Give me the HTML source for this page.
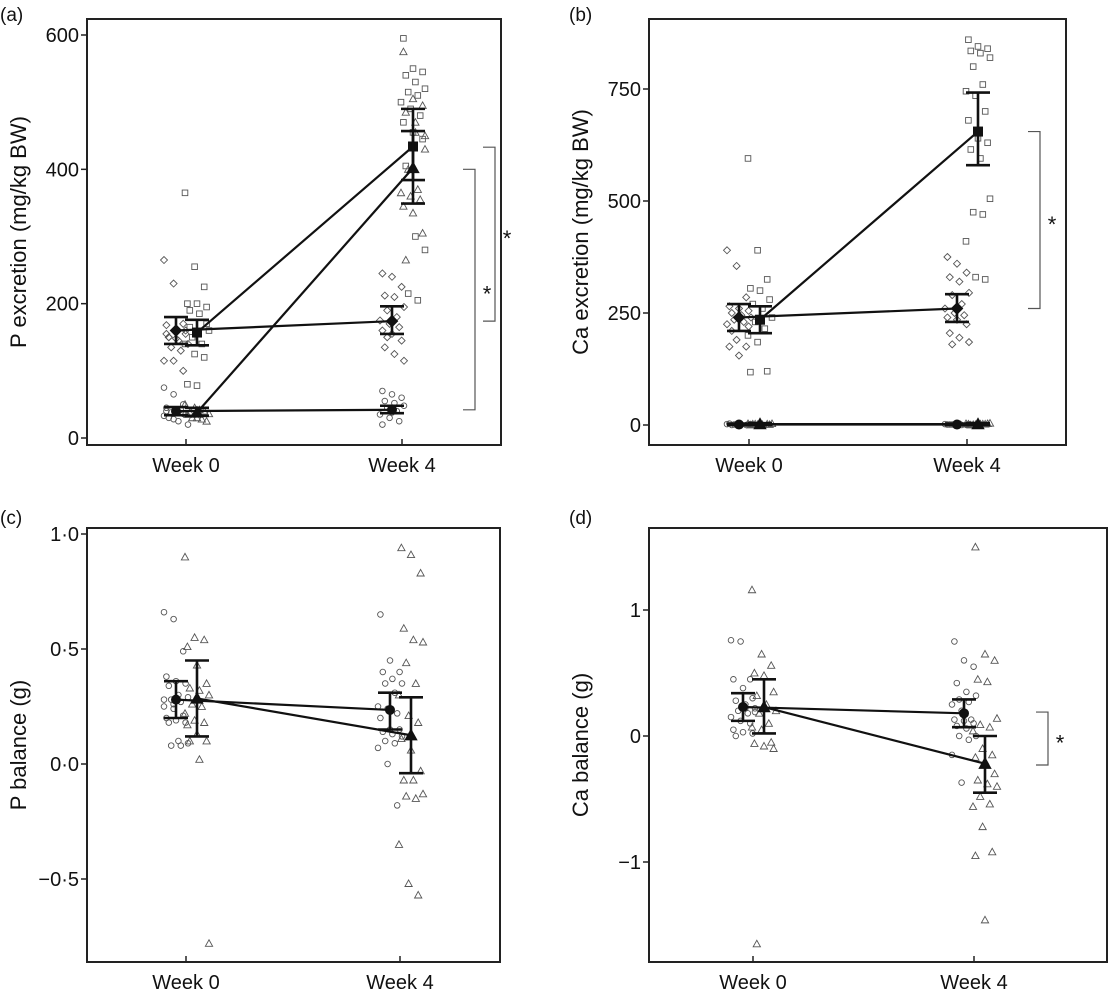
<!DOCTYPE html>
<html><head><meta charset="utf-8">
<style>
html,body{margin:0;padding:0;background:#fff;}
svg{display:block;font-family:"Liberation Sans",Arial,sans-serif;}
</style></head>
<body>
<svg id="fig" width="1111" height="993" viewBox="0 0 1111 993" xmlns="http://www.w3.org/2000/svg"></svg>
<script>
// ---------- DATA ----------
const categories = ["Week 0","Week 4"];
// Panel (a) P excretion
const aDiamW0=[265,230,170,168,160,155,150,145,140,135,130,115,115,100,155,148,160,150];
const aCircW0=[75,65,50,45,40,35,30,25,20,38,42,33,28,36,40];
const aSqW0=[365,255,225,200,200,195,190,185,160,150,140,140,125,120,80,78,170,165];
const aTriW0=[50,45,40,35,30,25,38,42,36,30,28];
const aDiamW4=[245,240,225,212,210,195,190,180,175,170,165,160,155,145,135,125,115,150];
const aCircW4=[70,65,60,55,52,48,45,40,35,30,25,20,38];
const aSqW4=[595,550,545,540,530,520,515,510,500,490,480,470,455,445,405,300,280,215,205];
const aTriW4=[575,505,495,485,455,430,400,370,365,360,355,345,335,305,265,470,450];
const aMeans={diam:[160,174],circ:[40,42],sq:[157,434],tri:[38,402]};
const aLo={diam:[140,155],circ:[34,37],sq:[138,384],tri:[33,349]};
const aHi={diam:[180,196],circ:[46,48],sq:[176,490],tri:[45,457]};
const aTicks=[0,200,400,600];
// Panel (b) Ca excretion
const bDiamW0=[390,355,285,265,260,255,250,245,240,235,230,225,190,175,175,155,220,210];
const bSqW0=[595,390,325,305,300,280,270,260,240,230,215,200,185,120,118];
const bCircW0=[2,1,0,3,1,2,0,1,2,1];
const bTriW0=[3,1,2,0,4,1,2,1,3,2];
const bDiamW4=[375,360,340,330,320,295,290,270,260,250,245,240,235,225,205,195,185,180];
const bSqW4=[860,845,840,835,830,820,800,760,745,735,700,680,640,630,615,595,505,475,470,410,330,325];
const bCircW4=[1,2,0,1,3,2,1,0,2,1];
const bTriW4=[2,1,3,0,2,4,1,2,3,1,2];
const bMeans={diam:[240,260],circ:[1,1],sq:[235,655],tri:[2,2]};
const bLo={diam:[210,230],circ:[0,0],sq:[205,580],tri:[0,0]};
const bHi={diam:[270,292],circ:[3,3],sq:[265,742],tri:[4,4]};
const bTicks=[0,250,500,750];
// Panel (c) P balance
const cCircW0=[0.66,0.63,0.49,0.38,0.36,0.35,0.34,0.30,0.29,0.28,0.27,0.25,0.24,0.21,0.20,0.19,0.18,0.18,0.10,0.09,0.08,0.08,0.28,0.26];
const cTriW0=[0.90,0.55,0.54,0.51,0.43,0.35,0.33,0.32,0.30,0.26,0.25,0.22,0.19,0.18,0.17,0.13,0.10,0.10,0.02,-0.78];
const cCircW4=[0.65,0.45,0.40,0.40,0.37,0.35,0.35,0.31,0.25,0.24,0.22,0.20,0.15,0.15,0.14,0.13,0.12,0.10,0.09,0.07,0.00,-0.18];
const cTriW4=[0.94,0.91,0.83,0.59,0.54,0.53,0.44,0.35,0.30,0.21,0.18,0.11,0.06,-0.03,-0.07,-0.07,-0.13,-0.14,-0.15,-0.35,-0.52,-0.57];
const cMeans={circ:[0.28,0.235],tri:[0.285,0.125]};
const cLo={circ:[0.20,0.15],tri:[0.12,-0.04]};
const cHi={circ:[0.36,0.31],tri:[0.45,0.29]};
const cTicks=[-0.5,0,0.5,1.0];
const cTickLabels=["\u22120\u00b75","0\u00b70","0\u00b75","1\u00b70"];
// Panel (d) Ca balance
const dCircW0=[0.76,0.75,0.45,0.45,0.38,0.30,0.28,0.25,0.22,0.20,0.18,0.15,0.12,0.10,0.05,0.03,0.02,0.0,0.22,0.19];
const dTriW0=[1.16,0.65,0.56,0.50,0.48,0.35,0.32,0.25,0.20,0.18,0.10,0.07,0.05,-0.05,-0.06,-0.08,-0.10,-1.65];
const dCircW4=[0.75,0.60,0.55,0.42,0.35,0.32,0.29,0.27,0.25,0.20,0.13,0.13,0.12,0.10,0.08,0.06,0.0,0.0,-0.03,-0.15,-0.37];
const dTriW4=[1.5,0.65,0.60,0.45,0.43,0.14,0.09,0.07,0.04,-0.10,-0.15,-0.17,-0.20,-0.30,-0.35,-0.38,-0.40,-0.48,-0.54,-0.56,-0.72,-0.92,-0.95,-1.46];
const dMeans={circ:[0.23,0.18],tri:[0.23,-0.22]};
const dLo={circ:[0.12,0.07],tri:[0.02,-0.45]};
const dHi={circ:[0.34,0.29],tri:[0.45,0.00]};
const dTicks=[-1,0,1];
const dTickLabels=["\u22121","0","1"];

// ---------- DRAW ----------
const NS="http://www.w3.org/2000/svg";
const svg=document.getElementById('fig');
function mk(tag,attrs,parent){const e=document.createElementNS(NS,tag);for(const k in attrs)e.setAttribute(k,attrs[k]);(parent||svg).appendChild(e);return e;}
function lin(v0,p0,v1,p1){return v=>p0+(v-v0)*(p1-p0)/(v1-v0);}

function marker(g,shape,x,y,filled){
  const st=filled?{fill:'#111',stroke:'#111','stroke-width':1}:{fill:'none',stroke:'#555','stroke-width':0.9};
  const s=filled?4.5:2.8;
  let e;
  if(shape==='circ'){e=mk('circle',Object.assign({cx:x,cy:y,r:s},st),g);}
  else if(shape==='sq'){e=mk('rect',Object.assign({x:x-s,y:y-s,width:2*s,height:2*s},st),g);}
  else if(shape==='diam'){const d=s*1.25;e=mk('polygon',Object.assign({points:`${x},${y-d} ${x+d},${y} ${x},${y+d} ${x-d},${y}`},st),g);}
  else {const d=s*1.3;e=mk('polygon',Object.assign({points:`${x},${y-d} ${x+d},${y+d*0.8} ${x-d},${y+d*0.8}`},st),g);}
  
  
}
function jit(i){return ((i*37)%11-5)*2.4;}

function panel(cfg){
  const g=mk('g',{});
  
  
  const y=lin(cfg.v0,cfg.p0,cfg.v1,cfg.p1);
  const xs=[cfg.xw0,cfg.xw4];
  const fr=mk('rect',{x:cfg.L,y:cfg.T,width:cfg.R-cfg.L,height:cfg.B-cfg.T,fill:'none',stroke:'#222','stroke-width':2},g);
  
  const lbl=mk('text',{x:cfg.labelX,y:cfg.labelY,'font-size':19,fill:'#111'},g);lbl.textContent='('+cfg.id+')';
  
  cfg.ticks.forEach((t,i)=>{
    const ty=y(t);
    const tk=mk('line',{x1:cfg.L,x2:cfg.L-6,y1:ty,y2:ty,stroke:'#222','stroke-width':1.5},g);
    
    const tl=mk('text',{x:cfg.L-8,y:ty+7,'font-size':20,'text-anchor':'end',fill:'#111'},g);
    tl.textContent=cfg.tickLabels?cfg.tickLabels[i]:String(t);
    
  });
  categories.forEach((c,i)=>{
    const tk=mk('line',{x1:xs[i],x2:xs[i],y1:cfg.B,y2:cfg.B-6,stroke:'#222','stroke-width':1.5},g);
    
    const tl=mk('text',{x:xs[i],y:cfg.B+27,'font-size':20,'text-anchor':'middle',fill:'#111'},g);
    tl.textContent=c;
    
  });
  const at=mk('text',{x:0,y:0,'font-size':22,'text-anchor':'middle',fill:'#111',transform:`translate(${cfg.titleX},${(cfg.T+cfg.B)/2}) rotate(-90)`},g);
  at.textContent=cfg.title;
  cfg.groups.forEach(gr=>{
    [gr.w0,gr.w4].forEach((arr,wi)=>{
      arr.forEach((v,i)=>marker(g,gr.shape,xs[wi]+gr.off+jit(i+wi*3),y(v),false));
    });
  });
  cfg.groups.forEach(gr=>{
    const m=cfg.means[gr.shape];
    const l=mk('line',{x1:xs[0]+gr.off,y1:y(m[0]),x2:xs[1]+gr.off,y2:y(m[1]),stroke:'#111','stroke-width':2.2},g);
    
  });
  cfg.groups.forEach(gr=>{
    [0,1].forEach(wi=>{
      const x=xs[wi]+gr.off, lo=cfg.lo[gr.shape][wi], hi=cfg.hi[gr.shape][wi];
      const eb=mk('path',{d:`M${x},${y(lo)}V${y(hi)}M${x-12},${y(lo)}H${x+12}M${x-12},${y(hi)}H${x+12}`,stroke:'#111','stroke-width':2.6,fill:'none'},g);
      
      marker(g,gr.shape,x,y(cfg.means[gr.shape][wi]),true);
    });
  });
  (cfg.brackets||[]).forEach(b=>{
    const y1=y(b.a),y2=y(b.b);
    const p=mk('path',{d:`M${b.x-12},${y1}H${b.x}V${y2}H${b.x-12}`,stroke:'#555','stroke-width':1.2,fill:'none'},g);
    
    const s=mk('text',{x:b.x+12,y:(y1+y2)/2+12,'font-size':22,'text-anchor':'middle',fill:'#111'},g);
    s.textContent='*';
  });
}

panel({id:'a',labelX:0,labelY:21,L:87,R:501,T:19,B:445,v0:0,p0:438,v1:600,p1:35,xw0:186,xw4:402,titleX:26,
  title:'P excretion (mg/kg BW)',ticks:aTicks,
  groups:[{shape:'diam',off:-10,w0:aDiamW0,w4:aDiamW4},{shape:'circ',off:-10,w0:aCircW0,w4:aCircW4},
          {shape:'sq',off:11,w0:aSqW0,w4:aSqW4},{shape:'tri',off:11,w0:aTriW0,w4:aTriW4}],
  means:aMeans,lo:aLo,hi:aHi,
  brackets:[{x:475,a:400,b:42},{x:495,a:433,b:174}]});
panel({id:'b',labelX:569,labelY:21,L:649,R:1066,T:19,B:445,v0:0,p0:425,v1:750,p1:89,xw0:749,xw4:967,titleX:588,
  title:'Ca excretion (mg/kg BW)',ticks:bTicks,
  groups:[{shape:'diam',off:-10,w0:bDiamW0,w4:bDiamW4},{shape:'circ',off:-10,w0:bCircW0,w4:bCircW4},
          {shape:'sq',off:11,w0:bSqW0,w4:bSqW4},{shape:'tri',off:11,w0:bTriW0,w4:bTriW4}],
  means:bMeans,lo:bLo,hi:bHi,
  brackets:[{x:1040,a:655,b:260}]});
panel({id:'c',labelX:0,labelY:524,L:87,R:500,T:528,B:962,v0:0,p0:764,v1:1,p1:534,xw0:186,xw4:400,titleX:26,
  title:'P balance (g)',ticks:cTicks,tickLabels:cTickLabels,
  groups:[{shape:'circ',off:-10,w0:cCircW0,w4:cCircW4},{shape:'tri',off:11,w0:cTriW0,w4:cTriW4}],
  means:cMeans,lo:cLo,hi:cHi});
panel({id:'d',labelX:569,labelY:524,L:649,R:1107,T:528,B:962,v0:0,p0:736,v1:1,p1:610,xw0:753,xw4:974,titleX:588,
  title:'Ca balance (g)',ticks:dTicks,tickLabels:dTickLabels,
  groups:[{shape:'circ',off:-10,w0:dCircW0,w4:dCircW4},{shape:'tri',off:11,w0:dTriW0,w4:dTriW4}],
  means:dMeans,lo:dLo,hi:dHi,
  brackets:[{x:1048,a:0.19,b:-0.23}]});
</script>
</body></html>
